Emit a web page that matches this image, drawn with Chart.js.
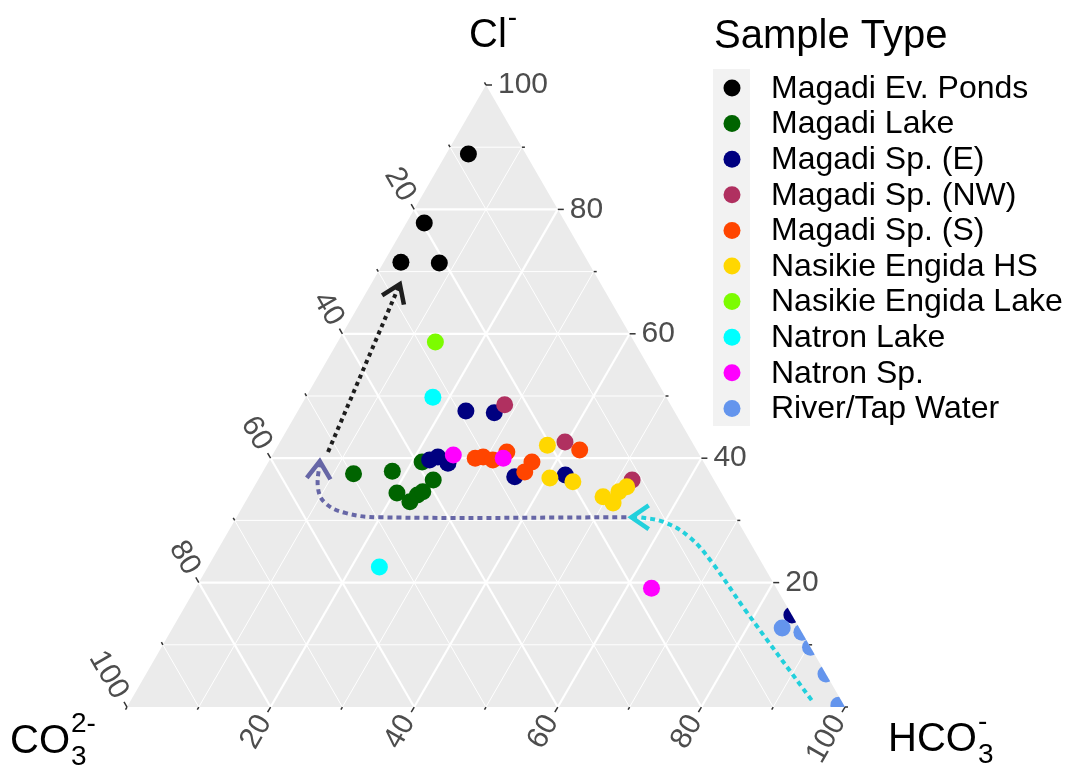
<!DOCTYPE html>
<html>
<head>
<meta charset="utf-8">
<script src="https://cdn.jsdelivr.net/npm/chart.js@4.4.0/dist/chart.umd.min.js"></script>
<style>
  body { margin: 0; background: #fff; }
  #wrap { width: 1067px; height: 767px; }
</style>
</head>
<body>
<div id="wrap"><canvas id="chart"></canvas></div>
<script>
// values in percent: Cl (top apex), HCO3 (bottom right); CO3 = 100 - Cl - HCO3
const groups = ['Magadi Ev. Ponds', 'Magadi Lake', 'Magadi Sp. (E)', 'Magadi Sp. (NW)', 'Magadi Sp. (S)',
  'Nasikie Engida HS', 'Nasikie Engida Lake', 'Natron Lake', 'Natron Sp.', 'River/Tap Water'];
const colors = ['#000000', '#006400', '#000080', '#B03060', '#FF4500',
  '#FFD700', '#7CFC00', '#00FFFF', '#FF00FF', '#6495ED'];

const evPondsCl = [88.9, 77.8, 71.5, 71.4];
const evPondsHCO3 = [3.1, 2.5, 2.4, 7.8];
const magadiLakeCl = [37.5, 37.9, 39.4, 36.5, 34.4, 33.0, 34.1, 34.6];
const magadiLakeHCO3 = [12.8, 18.0, 21.4, 24.4, 20.4, 22.9, 23.4, 23.9];
const springEastCl = [47.6, 47.3, 39.7, 40.2, 39.2, 37.0, 37.3, 14.8];
const springEastHCO3 = [23.4, 27.5, 22.3, 23.2, 25.1, 35.5, 42.4, 85.2];
const springNWCl = [48.6, 42.6, 36.5];
const springNWHCO3 = [28.3, 39.7, 52.1];
const springSouthCl = [40.0, 40.2, 39.7, 41.0, 37.8, 39.4, 41.3];
const springSouthHCO3 = [28.5, 29.5, 31.1, 32.4, 36.5, 36.7, 42.4];
const nasikieHSCl = [42.1, 36.8, 36.2, 33.8, 32.8, 34.6, 35.4];
const nasikieHSHCO3 = [37.5, 40.5, 44.0, 49.4, 51.3, 51.2, 51.9];
const nasikieLakeCl = [58.7];
const nasikieLakeHCO3 = [13.6];
const natronLakeCl = [49.8, 22.5];
const natronLakeHCO3 = [17.7, 23.9];
const natronSpCl = [40.5, 40.0, 19.1];
const natronSpHCO3 = [25.2, 32.4, 63.5];
const riverCl = [12.7, 12.0, 9.6, 5.3, 0.3];
const riverHCO3 = [84.9, 88.0, 90.4, 94.7, 99.0];

// annotation arrows (same ternary coordinates)
const evapArrowCl = [41.0, 68.0];
const evapArrowHCO3 = [7.5, 4.0];
const mixArrowCl = [30.5, 30.5, 31.2, 32.8, 35.2, 39.5];
const mixArrowHCO3 = [54.3, 19.9, 14.8, 11.2, 9.0, 7.1];
const inflowArrowCl = [1.1, 15.6, 23.2, 27.3, 29.7, 30.5, 30.5];
const inflowArrowHCO3 = [94.8, 78.3, 69.9, 64.7, 60.0, 56.1, 55.0];

const tickValues = [0, 10, 20, 30, 40, 50, 60, 70, 80, 90, 100];
const tickLabels = ['', '', '20', '', '40', '', '60', '', '80', '', '100'];

const FONT = '"Liberation Sans", Arial, sans-serif';

function toXY(cl, hco3) {
  return cl.map((c, i) => ({ x: hco3[i] + c / 2, y: c }));
}

const groupCl = [evPondsCl, magadiLakeCl, springEastCl, springNWCl, springSouthCl,
  nasikieHSCl, nasikieLakeCl, natronLakeCl, natronSpCl, riverCl];
const groupHCO3 = [evPondsHCO3, magadiLakeHCO3, springEastHCO3, springNWHCO3, springSouthHCO3,
  nasikieHSHCO3, nasikieLakeHCO3, natronLakeHCO3, natronSpHCO3, riverHCO3];

const datasets = groups.map((g, i) => ({
  label: g,
  data: toXY(groupCl[i], groupHCO3[i]),
  backgroundColor: colors[i],
  borderWidth: 0,
  pointRadius: 8.5,
  pointHoverRadius: 8.5,
  clip: false,
  order: 20 - i
}));

function arrowSet(cl, hco3, color, dash) {
  return {
    type: 'line',
    label: 'arrow',
    isArrow: true,
    data: toXY(cl, hco3),
    borderColor: color,
    borderWidth: 4,
    borderDash: dash,
    borderCapStyle: 'butt',
    pointRadius: 0,
    tension: 0.4,
    fill: false,
    clip: false,
    order: -1
  };
}
datasets.push(arrowSet(evapArrowCl, evapArrowHCO3, '#1E1E1E', [4, 4]));
datasets.push(arrowSet(mixArrowCl, mixArrowHCO3, '#6666A6', [5, 4]));
datasets.push(arrowSet(inflowArrowCl, inflowArrowHCO3, '#22D0DC', [5, 4]));

const ternaryPlugin = {
  id: 'ternary',
  beforeDatasetsDraw(chart) {
    const { ctx, scales: { x, y } } = chart;
    const P = (cl, hco3) => [x.getPixelForValue(hco3 + cl / 2), y.getPixelForValue(cl)];
    const top = P(100, 0), left = P(0, 0), right = P(0, 100);

    ctx.save();
    ctx.beginPath();
    ctx.moveTo(...top); ctx.lineTo(...left); ctx.lineTo(...right); ctx.closePath();
    ctx.fillStyle = '#EBEBEB';
    ctx.fill();

    // grid
    ctx.strokeStyle = '#FFFFFF';
    const seg = (a, b) => { ctx.beginPath(); ctx.moveTo(...a); ctx.lineTo(...b); ctx.stroke(); };
    for (let v = 10; v < 100; v += 10) {
      ctx.lineWidth = v % 20 === 0 ? 2.2 : 1;
      seg(P(v, 0), P(v, 100 - v));          // Cl constant
      seg(P(0, v), P(100 - v, v));          // HCO3 constant
      seg(P(0, 100 - v), P(100 - v, 0));    // CO3 constant
    }

    // ticks and labels
    const s3 = Math.sqrt(3) / 2;
    const axes = [
      { pt: v => P(v, 100 - v), dir: [1, 0], rot: 0, align: 'left' },                 // Cl, right edge
      { pt: v => P(100 - v, 0), dir: [-0.5, -s3], rot: Math.PI / 3, align: 'right' }, // CO3, left edge
      { pt: v => P(0, v), dir: [-0.5, s3], rot: -Math.PI / 3, align: 'right' }        // HCO3, bottom
    ];
    ctx.strokeStyle = '#333333';
    ctx.lineWidth = 1.5;
    ctx.fillStyle = '#4D4D4D';
    ctx.font = '30px ' + FONT;
    ctx.textBaseline = 'middle';
    axes.forEach(ax => {
      tickValues.forEach((v, i) => {
        const p = ax.pt(v);
        const len = tickLabels[i] ? 6 : 3;
        seg(p, [p[0] + ax.dir[0] * len, p[1] + ax.dir[1] * len]);
        if (tickLabels[i]) {
          const o = [p[0] + ax.dir[0] * (len + 6), p[1] + ax.dir[1] * (len + 6)];
          ctx.save();
          ctx.translate(o[0], o[1]);
          ctx.rotate(ax.rot);
          ctx.textAlign = ax.align;
          ctx.fillText(tickLabels[i], 0, 0);
          ctx.restore();
        }
      });
    });
    ctx.restore();

    // clip marks to the triangle
    ctx.save();
    ctx.beginPath();
    ctx.moveTo(...top); ctx.lineTo(...left); ctx.lineTo(...right); ctx.closePath();
    ctx.clip();
  },
  afterDatasetsDraw(chart) {
    const { ctx } = chart;
    ctx.restore();

    // arrow heads
    chart.data.datasets.forEach((ds, i) => {
      if (!ds.isArrow) return;
      const pts = chart.getDatasetMeta(i).data;
      const a = pts[pts.length - 2], b = pts[pts.length - 1];
      const ang = Math.atan2(b.y - a.y, b.x - a.x);
      const L = 21, h = 0.6;
      ctx.save();
      ctx.strokeStyle = ds.borderColor;
      ctx.lineWidth = 4.5;
      ctx.lineJoin = 'miter';
      ctx.beginPath();
      ctx.moveTo(b.x - L * Math.cos(ang - h), b.y - L * Math.sin(ang - h));
      ctx.lineTo(b.x, b.y);
      ctx.lineTo(b.x - L * Math.cos(ang + h), b.y - L * Math.sin(ang + h));
      ctx.stroke();
      ctx.restore();
    });

    // legend
    ctx.save();
    ctx.fillStyle = '#000';
    ctx.font = '40px ' + FONT;
    ctx.textBaseline = 'alphabetic';
    ctx.textAlign = 'left';
    ctx.fillText('Sample Type', 714, 48);
    ctx.fillStyle = '#F2F2F2';
    ctx.fillRect(713, 69, 37, 357);
    ctx.font = '32px ' + FONT;
    ctx.textBaseline = 'middle';
    groups.forEach((g, i) => {
      const yy = 88 + i * 35.6;
      ctx.fillStyle = colors[i];
      ctx.beginPath();
      ctx.arc(732, yy, 8.5, 0, Math.PI * 2);
      ctx.fill();
      ctx.fillStyle = '#000';
      ctx.fillText(g, 771, yy + 1);
    });

    // axis titles
    const chem = (x0, base, main, sub, sup) => {
      ctx.textBaseline = 'alphabetic';
      ctx.font = '40px ' + FONT;
      ctx.fillText(main, x0, base);
      const xs = x0 + ctx.measureText(main).width + 1;
      ctx.font = '28px ' + FONT;
      if (sub) ctx.fillText(sub, xs, base + 12);
      if (sup) ctx.fillText(sup, xs, base - 21);
    };
    ctx.fillStyle = '#000';
    chem(469, 47, 'Cl', '', '-');
    chem(10, 753, 'CO', '3', '2-');
    chem(888, 751, 'HCO', '3', '-');
    ctx.restore();
  }
};

new Chart(document.getElementById('chart'), {
  type: 'scatter',
  data: { datasets: datasets },
  options: {
    responsive: true,
    maintainAspectRatio: false,
    animation: false,
    layout: { padding: { left: 127, right: 222, top: 85, bottom: 60 } },
    scales: {
      x: { type: 'linear', min: 0, max: 100, display: false },
      y: { type: 'linear', min: 0, max: 100, display: false }
    },
    plugins: {
      legend: { display: false },
      tooltip: { enabled: false }
    }
  },
  plugins: [ternaryPlugin]
});
</script>
</body>
</html>
